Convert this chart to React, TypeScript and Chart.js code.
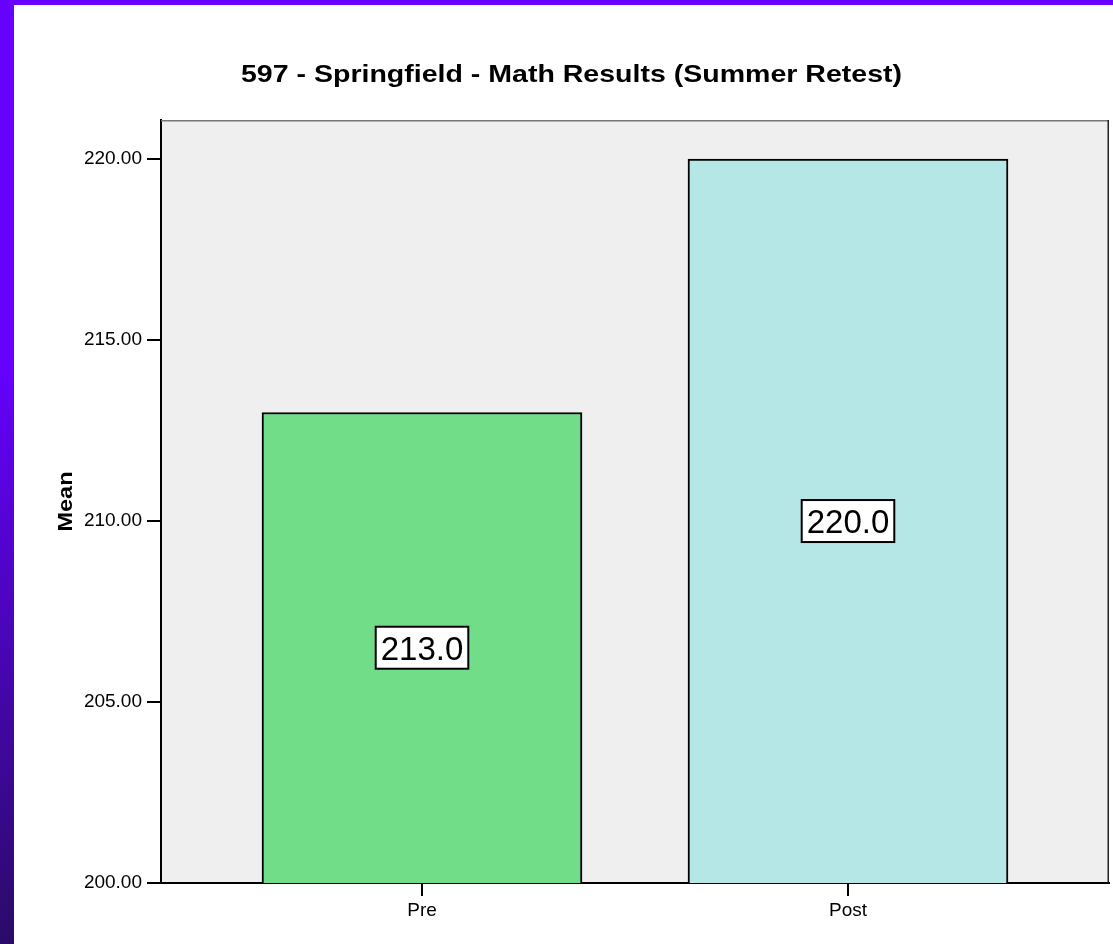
import React, { useEffect, useRef } from 'react';
import { Chart, registerables } from 'chart.js';

Chart.register(...registerables);

const FONT = '"Liberation Sans", Arial, Helvetica, sans-serif';
const TITLE = '597 - Springfield - Math Results (Summer Retest)';
const Y_TITLE = 'Mean';
const categories = ['Pre', 'Post'];
const means = [213.0, 220.0];
const valueLabels = ['213.0', '220.0'];
const barColors = ['#71dd88', '#b5e7e7'];
const yTickValues = [200, 205, 210, 215, 220];
const Y_MIN = 200;
const Y_MAX = 221.08;

export default function App() {
  const ref = useRef<HTMLCanvasElement>(null);

  useEffect(() => {
    const canvas = ref.current;
    if (!canvas) return;

    const plotFrame = {
      id: 'plotFrame',
      beforeDraw(chart: any) {
        const { ctx, chartArea: a } = chart;
        ctx.save();
        ctx.fillStyle = '#ffffff';
        ctx.fillRect(0, 0, chart.width, chart.height);
        ctx.fillStyle = '#efefef';
        ctx.fillRect(a.left, a.top, a.right - a.left, a.bottom - a.top);
        ctx.restore();
      },
      afterDraw(chart: any) {
        const { ctx, chartArea: a } = chart;
        ctx.save();
        ctx.strokeStyle = '#777777';
        ctx.lineWidth = 1.5;
        ctx.beginPath();
        ctx.moveTo(a.left, a.top + 0.75);
        ctx.lineTo(a.right, a.top + 0.75);
        ctx.stroke();
        ctx.strokeStyle = '#222222';
        ctx.beginPath();
        ctx.moveTo(a.right - 0.75, a.top);
        ctx.lineTo(a.right - 0.75, a.bottom);
        ctx.stroke();
        ctx.restore();

        // value boxes, placed through the chart's own scales
        const xScale = chart.scales.x;
        const yScale = chart.scales.y;
        const base = yScale.getPixelForValue(Y_MIN);
        for (let i = 0; i < means.length; i++) {
          const x = xScale.getPixelForValue(i);
          const top = yScale.getPixelForValue(means[i]);
          const cy = (top + base) / 2;
          const text = valueLabels[i];
          ctx.save();
          ctx.font = '33px "Liberation Sans", Arial, sans-serif';
          const tw = ctx.measureText(text).width;
          const bw = tw + 10;
          const bh = 42;
          ctx.fillStyle = '#ffffff';
          ctx.fillRect(x - bw / 2, cy - bh / 2, bw, bh);
          ctx.strokeStyle = '#000000';
          ctx.lineWidth = 2;
          ctx.strokeRect(x - bw / 2, cy - bh / 2, bw, bh);
          ctx.fillStyle = '#000000';
          ctx.textAlign = 'center';
          ctx.textBaseline = 'alphabetic';
          ctx.fillText(text, x, cy + 12);
          ctx.restore();
        }

        // chart title
        ctx.save();
        ctx.fillStyle = '#000';
        ctx.font = `bold 24px ${FONT}`;
        const w = ctx.measureText(TITLE).width;
        ctx.translate(571.5, 82);
        ctx.scale(661 / w, 1);
        ctx.textAlign = 'center';
        ctx.textBaseline = 'alphabetic';
        ctx.fillText(TITLE, 0, 0);
        ctx.restore();

        // y-axis title
        ctx.save();
        ctx.fillStyle = '#000';
        ctx.font = `bold 21px ${FONT}`;
        const mw = ctx.measureText(Y_TITLE).width;
        ctx.translate(72, (a.top + a.bottom) / 2);
        ctx.rotate(-Math.PI / 2);
        ctx.scale(60 / mw, 1);
        ctx.textAlign = 'center';
        ctx.textBaseline = 'alphabetic';
        ctx.fillText(Y_TITLE, 0, 0);
        ctx.restore();
      },
    };

    const chart = new Chart(canvas, {
      type: 'bar',
      data: {
        datasets: [
          {
            data: means.map((v, i) => ({ x: i, y: v })),
            backgroundColor: barColors,
            borderColor: '#000',
            borderWidth: 2,
            borderSkipped: false,
            barThickness: 320,
          },
        ],
      },
      options: {
        responsive: false,
        animation: false,
        layout: { padding: { top: 120, right: 4, left: 0, bottom: 0 } },
        plugins: {
          legend: { display: false },
          tooltip: { enabled: false },
          title: { display: false },
        },
        scales: {
          x: {
            type: 'linear',
            offset: false,
            min: -0.6127,
            max: 1.6127,
            afterBuildTicks: (s: any) => {
              s.ticks = categories.map((_, i) => ({ value: i }));
            },
            afterFit: (s: any) => {
              s.height = 61;
            },
            ticks: {
              callback: (v: any) => categories[v] ?? '',
              font: { family: FONT, size: 19 },
              color: '#000',
              padding: 3,
              autoSkip: false,
              maxRotation: 0,
            },
            grid: {
              offset: false,
              drawOnChartArea: false,
              drawTicks: true,
              tickLength: 13,
              color: '#000',
              lineWidth: 2,
            },
            border: { display: true, color: '#000', width: 2 },
          },
          y: {
            min: Y_MIN,
            max: Y_MAX,
            afterBuildTicks: (s: any) => {
              s.ticks = yTickValues.map((v) => ({ value: v }));
            },
            afterFit: (s: any) => {
              s.width = 161;
            },
            ticks: {
              callback: (v: any) => Number(v).toFixed(2),
              font: { family: FONT, size: 19 },
              color: '#000',
              padding: 5,
            },
            grid: {
              drawOnChartArea: false,
              drawTicks: true,
              tickLength: 14,
              color: '#000',
              lineWidth: 2,
            },
            border: { display: true, color: '#000', width: 2 },
          },
        },
      },
      plugins: [plotFrame],
    } as any);

    return () => chart.destroy();
  }, []);

  return (
    <div
      style={{
        position: 'fixed',
        left: 0,
        top: 0,
        width: 1113,
        height: 944,
        background: '#fff',
        overflow: 'hidden',
      }}
    >
      <canvas
        ref={ref}
        width={1113}
        height={944}
        style={{ display: 'block', width: 1113, height: 944 }}
      />
      <div
        style={{
          position: 'absolute',
          left: 0,
          top: 0,
          width: 1113,
          height: 5,
          background: '#6600ff',
        }}
      />
      <div
        style={{
          position: 'absolute',
          left: 0,
          top: 0,
          width: 14,
          height: 944,
          background: 'linear-gradient(#6600ff 0%, #6600ff 38%, #2a0b68 100%)',
        }}
      />
    </div>
  );
}
